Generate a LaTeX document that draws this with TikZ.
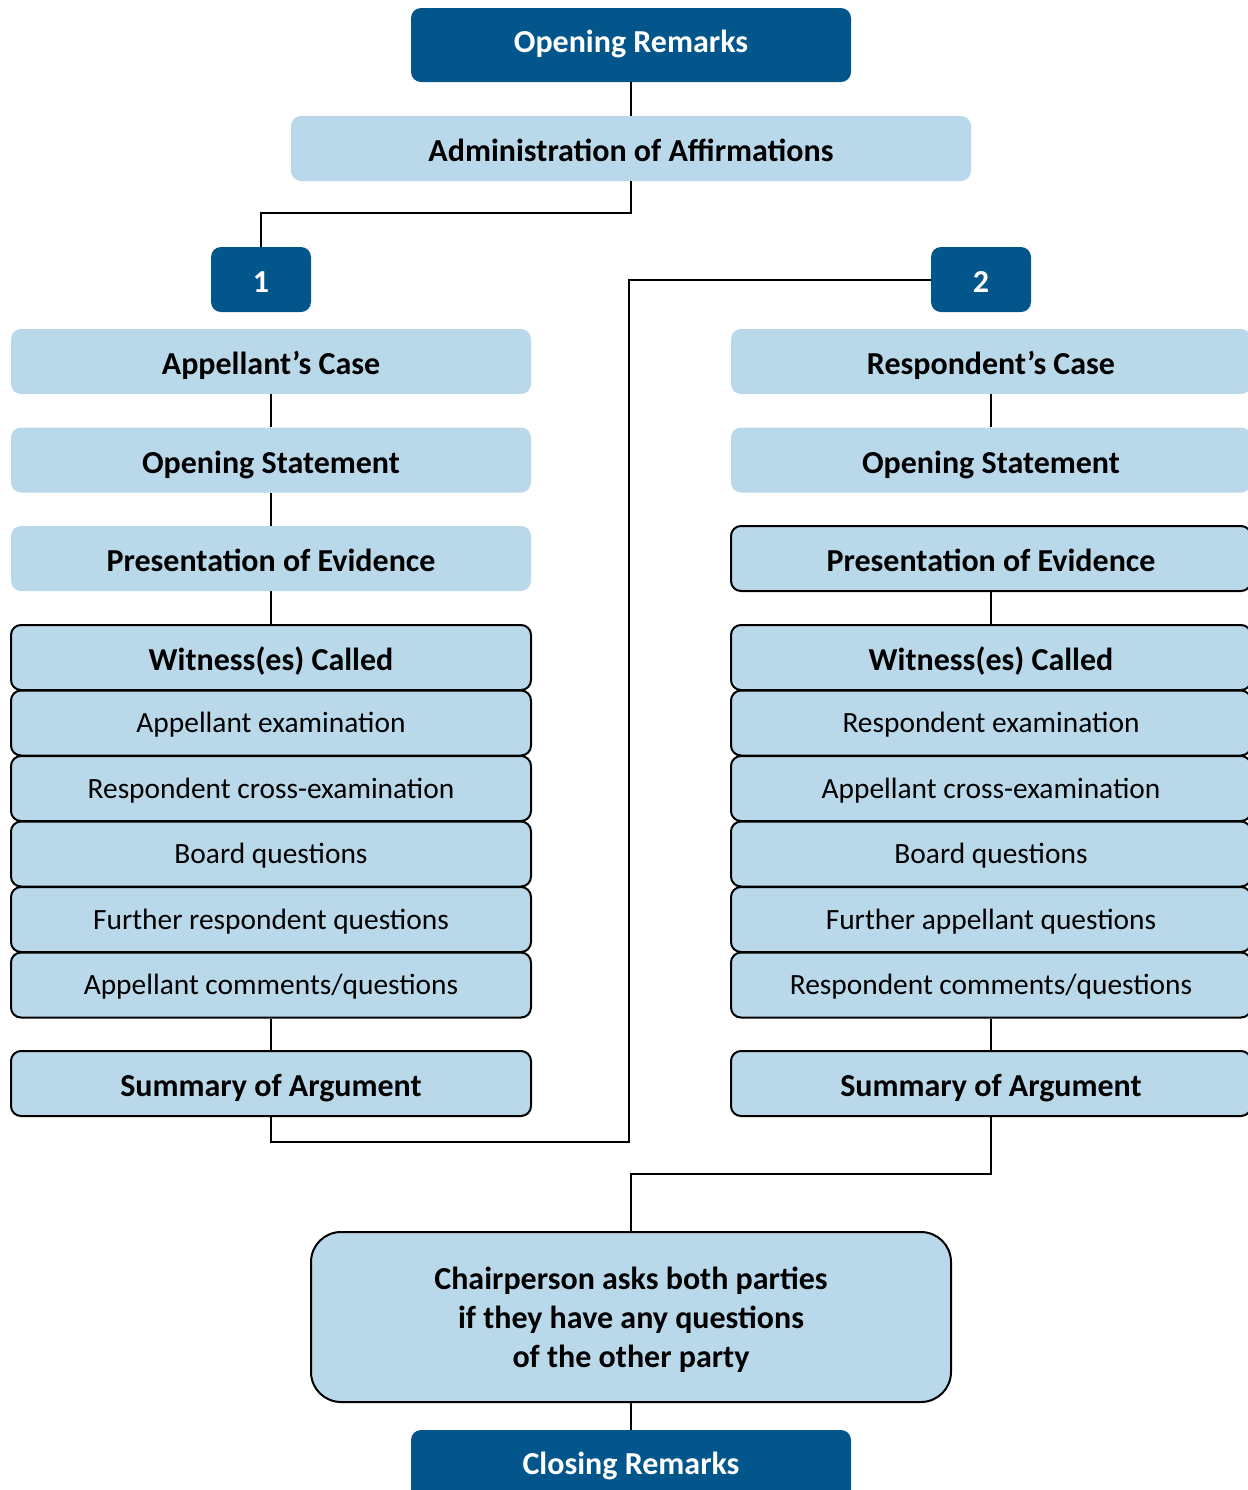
\documentclass[tikz,border=0pt]{standalone}
\usepackage{fontspec}
\setmainfont{Carlito}
\usetikzlibrary{positioning}
\definecolor{darkblue}{RGB}{2,86,140}
\definecolor{lightblue}{RGB}{185,217,234}
\tikzset{
  dark/.style={rectangle,rounded corners=5pt,fill=darkblue,text=white,inner sep=0pt,
    text height=7.3pt,text depth=0pt,font=\fontsize{16}{19}\selectfont\bfseries},
  num/.style={dark,minimum width=50pt,minimum height=32.5pt,text height=13.3pt},
  plain/.style={rectangle,rounded corners=5pt,fill=lightblue,inner sep=0pt,
    minimum width=260pt,minimum height=32.5pt,text height=13.3pt,text depth=0pt,
    font=\fontsize{16}{19}\selectfont\bfseries},
  framed/.style={plain,draw=black,line width=1pt},
  sub/.style={framed,text height=9.5pt,font=\fontsize{14.7}{18}\selectfont},
  link/.style={line width=1pt}
}

\begin{document}
\begin{tikzpicture}[x=0.5pt,y=-0.5pt]
\useasboundingbox (0,0) rectangle (1248,1490);

% top
\node (open) at (631,45) [dark,minimum width=220pt,minimum height=37pt] {Opening Remarks};
\node (admin) at (631,148.5) [plain,minimum width=340pt] {Administration of Affirmations};
\node (one) at (261,279.5) [num] {1};
\node (two) at (981,279.5) [num] {2};

% appellant's case
\node (acase) at (271,361.5) [plain] {Appellant’s Case};
\node (aopen) at (271,460) [plain] {Opening Statement};
\node (aevid) at (271,558.5) [plain] {Presentation of Evidence};
\node (awit) at (271,657.5) [framed] {Witness(es) Called};
\foreach \t [count=\i] in {Appellant examination,Respondent cross-examination,Board questions,Further respondent questions,Appellant comments/questions}
  \node (a\i) at (271,657.5+65.5*\i) [sub] {\t};
\node (asum) at (271,1083.5) [framed] {Summary of Argument};

% respondent's case
\node (rcase) at (991,361.5) [plain] {Respondent’s Case};
\node (ropen) at (991,460) [plain] {Opening Statement};
\node (revid) at (991,558.5) [framed] {Presentation of Evidence};
\node (rwit) at (991,657.5) [framed] {Witness(es) Called};
\foreach \t [count=\i] in {Respondent examination,Appellant cross-examination,Board questions,Further appellant questions,Respondent comments/questions}
  \node (r\i) at (991,657.5+65.5*\i) [sub] {\t};
\node (rsum) at (991,1083.5) [framed] {Summary of Argument};

% end
\node (chair) at (631,1317) [framed,rounded corners=15pt,minimum width=320pt,minimum height=85pt,
  text height=,text depth=,font=\fontsize{16}{19.5}\selectfont\bfseries]
  {\raisebox{0pt}[\dimexpr\height+4pt][\depth]{\begin{tabular}{@{}c@{}}Chairperson asks both parties\\if they have any questions\\of the other party\end{tabular}}};
\node (close) at (631,1467) [dark,minimum width=220pt,minimum height=37pt] {Closing Remarks};

\coordinate (abend) at (261,213);
\coordinate (across) at (629,1142);
\coordinate (rbend) at (631,1174);

\draw[link] (open) -- (admin);
\draw[link] (admin.south) |- (abend) -- (one.north);
\draw[link] (acase) -- (aopen);
\draw[link] (aopen) -- (aevid);
\draw[link] (aevid) -- (awit);
\draw[link] (a5) -- (asum);
\draw[link] (asum.south) |- (across) |- (two.west);
\draw[link] (rcase) -- (ropen);
\draw[link] (revid) -- (rwit);
\draw[link] (r5) -- (rsum);
\draw[link] (rsum.south) |- (rbend) -- (chair.north);
\draw[link] (chair) -- (close);
\end{tikzpicture}
\end{document}
